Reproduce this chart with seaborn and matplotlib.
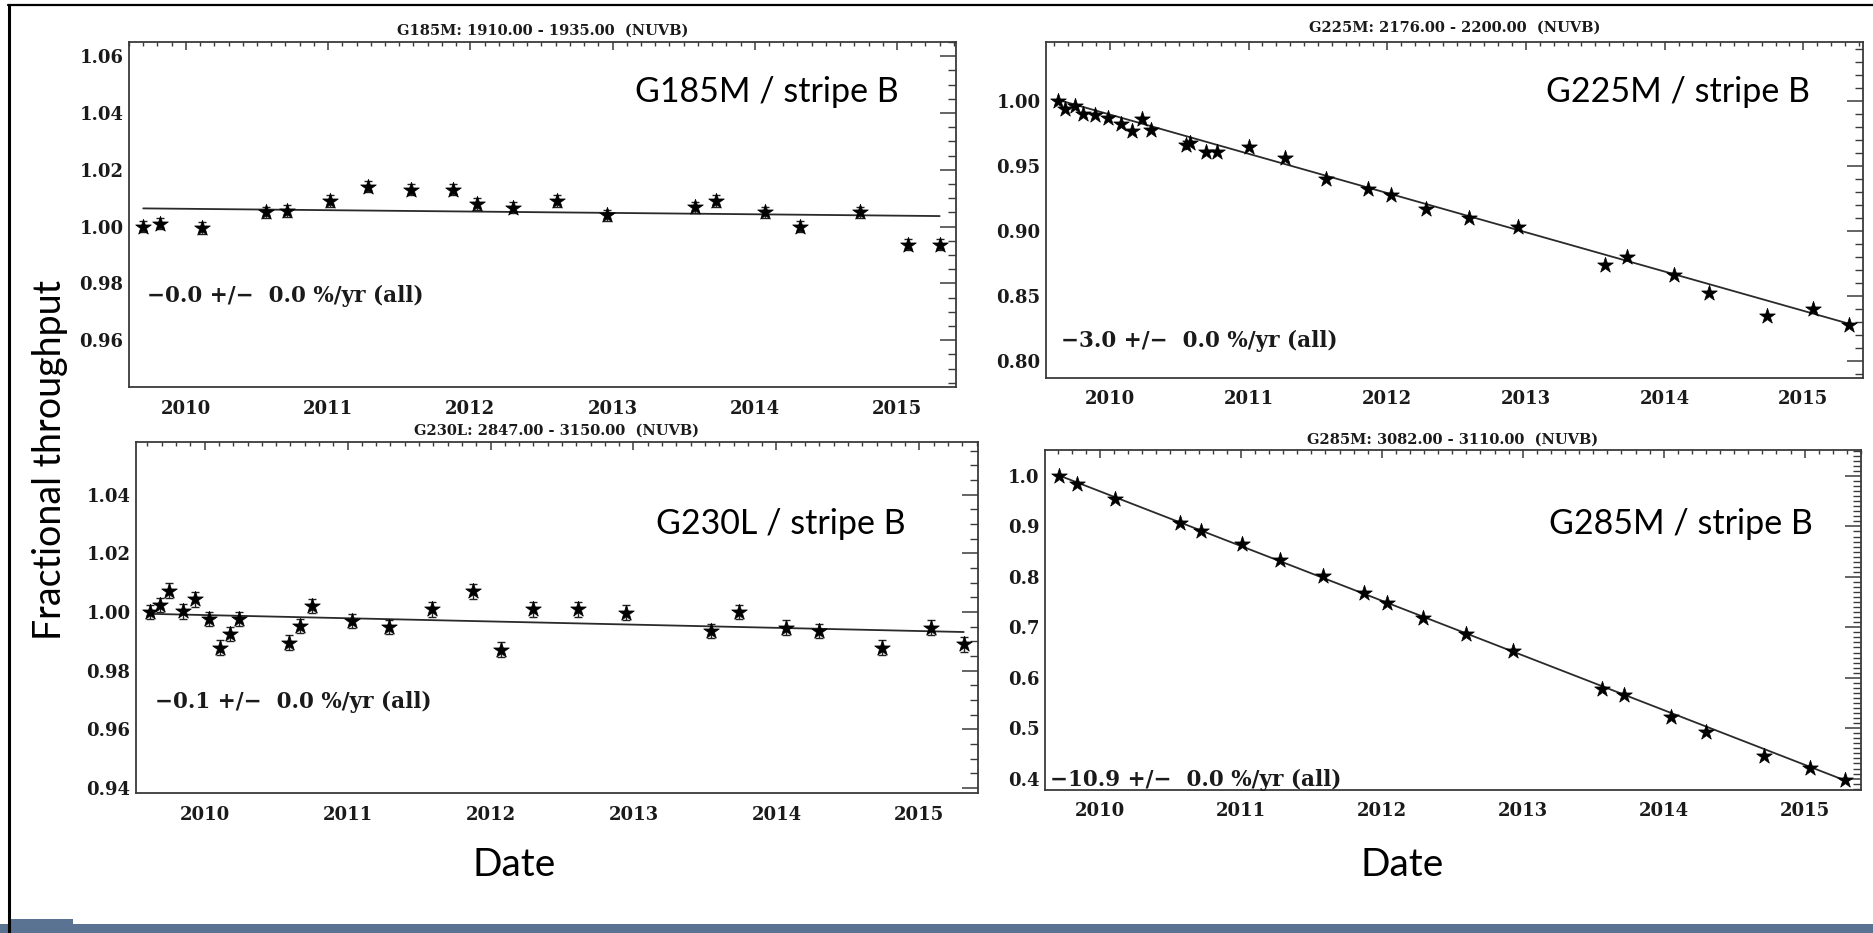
import numpy as np
import pandas as pd
import matplotlib
matplotlib.use("Agg")
import matplotlib.pyplot as plt
from matplotlib.ticker import MultipleLocator, FormatStrFormatter
from matplotlib.patches import Rectangle
from matplotlib.lines import Line2D
import seaborn as sns

# ---------------- data ----------------
g185m_dates = [2009.70, 2009.82, 2010.11, 2010.56, 2010.71, 2011.01, 2011.28, 2011.58,
               2011.88, 2012.05, 2012.30, 2012.61, 2012.96, 2013.58, 2013.73, 2014.07,
               2014.32, 2014.74, 2015.08, 2015.30]
g185m_thru = [1.000, 1.001, 0.9995, 1.005, 1.0055, 1.009, 1.014, 1.013,
              1.013, 1.008, 1.0067, 1.009, 1.004, 1.0068, 1.009, 1.005,
              1.000, 1.005, 0.9936, 0.9936]
g185m_err = 0.002
g185m_fit_dates = [2009.70, 2015.30]
g185m_fit_vals = [1.0064, 1.0037]

g225m_dates = [2009.63, 2009.68, 2009.75, 2009.81, 2009.89, 2009.99, 2010.08, 2010.16,
               2010.23, 2010.30, 2010.55, 2010.58, 2010.69, 2010.77, 2011.00, 2011.26,
               2011.56, 2011.86, 2012.03, 2012.28, 2012.59, 2012.94, 2013.57, 2013.73,
               2014.07, 2014.32, 2014.74, 2015.07, 2015.33]
g225m_thru = [1.000, 0.994, 0.996, 0.990, 0.989, 0.987, 0.982, 0.977,
              0.986, 0.978, 0.966, 0.968, 0.961, 0.961, 0.965, 0.956,
              0.940, 0.932, 0.928, 0.917, 0.910, 0.903, 0.874, 0.880,
              0.866, 0.852, 0.835, 0.840, 0.828]
g225m_fit_dates = [2009.63, 2015.33]
g225m_fit_vals = [1.0008, 0.8287]

g230l_dates = [2009.62, 2009.69, 2009.75, 2009.85, 2009.93, 2010.03, 2010.11, 2010.18,
               2010.24, 2010.59, 2010.67, 2010.75, 2011.03, 2011.29, 2011.59, 2011.88,
               2012.07, 2012.30, 2012.61, 2012.95, 2013.54, 2013.74, 2014.07, 2014.30,
               2014.74, 2015.08, 2015.31]
g230l_thru = [1.000, 1.0024, 1.0073, 1.0002, 1.0044, 0.9976, 0.9879, 0.9925,
              0.9976, 0.9896, 0.9953, 1.0021, 0.9970, 0.9949, 1.0009, 1.0071,
              0.9872, 1.0009, 1.0009, 0.9998, 0.9935, 1.0000, 0.9947, 0.9935,
              0.9879, 0.9947, 0.9890]
g230l_err = 0.0025
g230l_fit_dates = [2009.62, 2015.31]
g230l_fit_vals = [0.9994, 0.9932]

g285m_dates = [2009.71, 2009.84, 2010.11, 2010.57, 2010.72, 2011.01, 2011.28, 2011.58,
               2011.87, 2012.04, 2012.29, 2012.60, 2012.93, 2013.56, 2013.72, 2014.05,
               2014.30, 2014.71, 2015.04, 2015.29]
g285m_thru = [1.000, 0.9835, 0.955, 0.906, 0.890, 0.865, 0.833, 0.802,
              0.767, 0.748, 0.719, 0.686, 0.652, 0.577, 0.566, 0.522,
              0.492, 0.445, 0.422, 0.398]
g285m_fit_dates = [2009.71, 2015.29]
g285m_fit_vals = [1.001, 0.396]

panel_titles = ["G185M: 1910.00 - 1935.00  (NUVB)", "G225M: 2176.00 - 2200.00  (NUVB)",
                "G230L: 2847.00 - 3150.00  (NUVB)", "G285M: 3082.00 - 3110.00  (NUVB)"]
panel_labels = ["G185M / stripe B", "G225M / stripe B", "G230L / stripe B", "G285M / stripe B"]
rate_texts = ["\u22120.0 +/\u2212  0.0 %/yr (all)", "\u22123.0 +/\u2212  0.0 %/yr (all)",
              "\u22120.1 +/\u2212  0.0 %/yr (all)", "\u221210.9 +/\u2212  0.0 %/yr (all)"]

# ---------------- style ----------------
sns.set_theme(style="white")
plt.rcParams["font.family"] = ["DejaVu Serif"]
plt.rcParams["axes.edgecolor"] = "#3a3a3a"
plt.rcParams["axes.linewidth"] = 1.3

W, H = 1873, 933
fig = plt.figure(figsize=(W / 100, H / 100), dpi=100)
fig.patch.set_facecolor("white")


def fx(px):
    return px / W


def fy(py):
    return 1 - py / H


def add_axes_px(l, t, r, b):
    return fig.add_axes([fx(l), fy(b), (r - l) / W, (b - t) / H])


panels = [
    dict(rect=(129, 42, 956, 387), xlim=(2009.60, 2015.415), ylim=(0.9435, 1.065),
         ymaj=0.02, ymin=0.005, yfmt="%.2f", dates=g185m_dates, vals=g185m_thru,
         err=g185m_err, fd=g185m_fit_dates, fv=g185m_fit_vals,
         title_y=35, lab=(899, 102), rate=(147, 302)),
    dict(rect=(1046, 42, 1863, 378), xlim=(2009.54, 2015.43), ylim=(0.787, 1.0454),
         ymaj=0.05, ymin=0.01, yfmt="%.2f", dates=g225m_dates, vals=g225m_thru,
         err=None, fd=g225m_fit_dates, fv=g225m_fit_vals,
         title_y=32, lab=(1810, 102), rate=(1061, 347)),
    dict(rect=(136, 442, 978, 793), xlim=(2009.52, 2015.41), ylim=(0.9383, 1.058),
         ymaj=0.02, ymin=0.005, yfmt="%.2f", dates=g230l_dates, vals=g230l_thru,
         err=g230l_err, fd=g230l_fit_dates, fv=g230l_fit_vals,
         title_y=435, lab=(906, 534), rate=(155, 708)),
    dict(rect=(1045, 450, 1861, 790), xlim=(2009.61, 2015.40), ylim=(0.3774, 1.0515),
         ymaj=0.1, ymin=0.01, yfmt="%.1f", dates=g285m_dates, vals=g285m_thru,
         err=None, fd=g285m_fit_dates, fv=g285m_fit_vals,
         title_y=444, lab=(1813, 534), rate=(1050, 786)),
]

for i, p in enumerate(panels):
    l, t, r, b = p["rect"]
    ax = add_axes_px(l, t, r, b)
    df = pd.DataFrame({"date": p["dates"], "thru": p["vals"]})
    fit = pd.DataFrame({"date": p["fd"], "thru": p["fv"]})
    sns.lineplot(data=fit, x="date", y="thru", ax=ax, color="#2a2a2a", lw=1.3, zorder=2)
    if p["err"] is not None:
        ax.errorbar(df["date"], df["thru"], yerr=p["err"], fmt="none", ecolor="#222222",
                    elinewidth=1.0, capsize=2.8, capthick=1.0, zorder=3)
    sns.scatterplot(data=df, x="date", y="thru", ax=ax, marker="*", color="black",
                    edgecolor="black", linewidth=0.5, s=140, zorder=4, legend=False)
    ax.set_xlim(*p["xlim"])
    ax.set_ylim(*p["ylim"])
    ax.set_xlabel("")
    ax.set_ylabel("")
    ax.xaxis.set_major_locator(MultipleLocator(1))
    ax.xaxis.set_minor_locator(MultipleLocator(0.1))
    ax.xaxis.set_major_formatter(FormatStrFormatter("%d"))
    ax.yaxis.set_major_locator(MultipleLocator(p["ymaj"]))
    ax.yaxis.set_minor_locator(MultipleLocator(p["ymin"]))
    ax.yaxis.set_major_formatter(FormatStrFormatter(p["yfmt"]))
    ax.tick_params(axis="both", which="both", direction="in", top=True, right=True,
                   color="#3a3a3a", labelcolor="#1a1a1a", labelsize=13)
    ax.tick_params(axis="x", which="major", length=6, width=1.1, pad=9)
    ax.tick_params(axis="x", which="minor", length=3, width=1.0)
    ax.tick_params(axis="y", which="major", length=11.5, width=1.1, pad=4)
    ax.tick_params(axis="y", which="minor", length=5.8, width=1.0)
    for lab in ax.get_xticklabels() + ax.get_yticklabels():
        lab.set_fontweight("bold")
    for s in ax.spines.values():
        s.set_visible(True)
    ax.grid(False)

    cx = (l + r) / 2
    fig.text(fx(cx), fy(p["title_y"]), panel_titles[i], ha="center", va="baseline",
             fontsize=10.5, fontweight="bold", color="#1a1a1a", family=["DejaVu Serif"])
    fig.text(fx(p["lab"][0]), fy(p["lab"][1]), panel_labels[i], ha="right", va="baseline",
             fontsize=24.5, color="black", family=["Lato", "DejaVu Sans"])
    fig.text(fx(p["rate"][0]), fy(p["rate"][1]), rate_texts[i], ha="left", va="baseline",
             fontsize=15.5, fontweight="bold", color="#1a1a1a", family=["DejaVu Serif"])

# shared axis labels
fig.text(fx(514), fy(876), "Date", ha="center", va="baseline", fontsize=28,
         color="black", family=["Lato", "DejaVu Sans"])
fig.text(fx(1402), fy(876), "Date", ha="center", va="baseline", fontsize=28,
         color="black", family=["Lato", "DejaVu Sans"])
fig.text(fx(50), fy(460), "Fractional throughput", ha="center", va="center",
         rotation=90, fontsize=27, color="black", family=["Lato", "DejaVu Sans"])

# slide frame and bottom bar
fig.add_artist(Line2D([fx(8), fx(1873)], [fy(5), fy(5)], color="black", lw=1.6))
fig.add_artist(Line2D([fx(9), fx(9)], [fy(5), fy(933)], color="black", lw=2.2))
fig.add_artist(Rectangle((0, 0), 1, (933 - 924) / H, transform=fig.transFigure,
                         facecolor="#5a7392", edgecolor="none"))
fig.add_artist(Rectangle((fx(10), 0), fx(73) - fx(10), (933 - 919) / H,
                         transform=fig.transFigure, facecolor="#5a7392", edgecolor="none"))

fig.savefig("out.png", dpi=100, facecolor="white")
